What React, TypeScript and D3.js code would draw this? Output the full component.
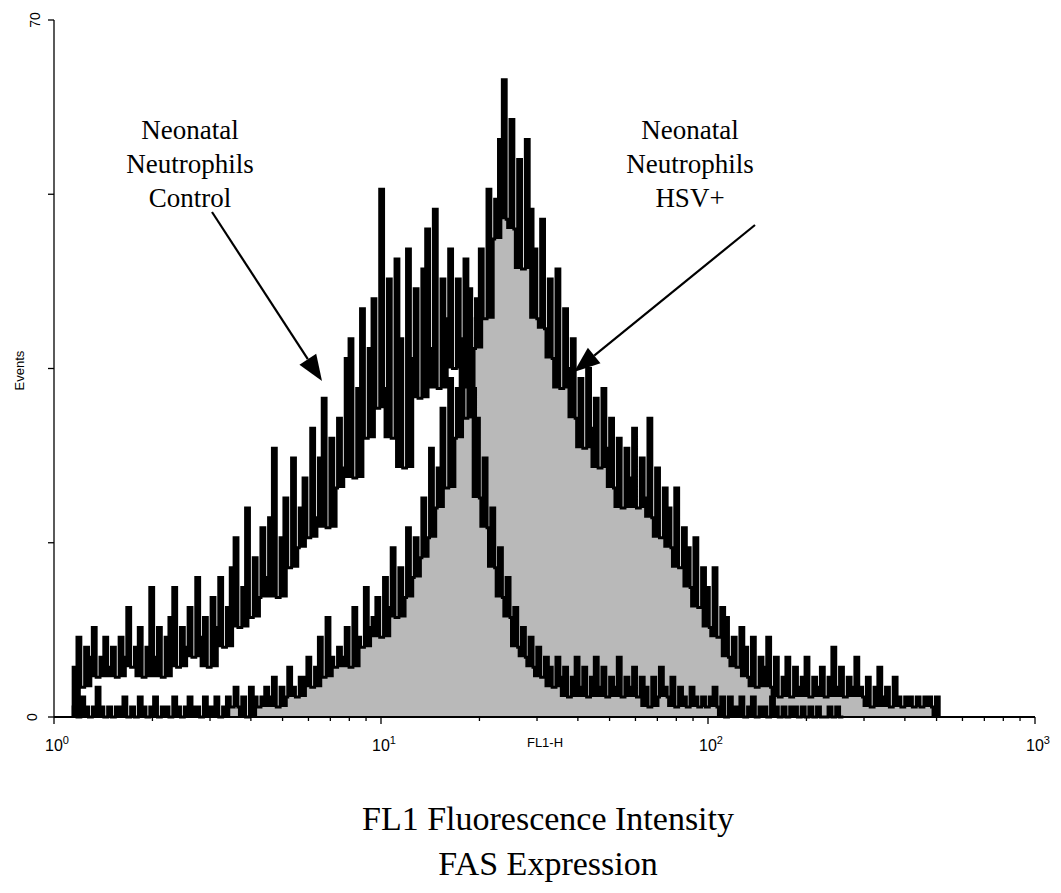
import React from "react";
import * as d3 from "d3";

// Histogram channels: 256 log-spaced bins over 10^0..10^3, data start at bin 5
const NB = 256;
const START_BIN = 5;

// Neonatal Neutrophils Control (open outline)
const CONTROL: number[] = [
  5, 8, 3, 7, 6, 9, 4, 6, 8, 5,
  7, 4, 8, 6, 11, 5, 7, 9, 4, 7,
  13, 6, 9, 4, 8, 10, 13, 5, 9, 7,
  11, 6, 14, 8, 10, 5, 12, 9, 14, 7,
  11, 15, 18, 9, 13, 21, 10, 16, 12, 19,
  14, 20, 27, 12, 18, 22, 15, 26, 17, 21,
  24, 18, 29, 20, 26, 32, 19, 28, 23, 30,
  25, 36, 38, 24, 33, 41, 28, 37, 42, 31,
  53, 33, 44, 28, 46, 38, 25, 47, 36, 43,
  32, 45, 49, 37, 51, 33, 44, 40, 47, 35,
  44, 35, 46, 40, 33,
  30, 22, 26, 19, 21, 15, 17, 12, 14, 10,
  11, 7, 9, 6, 8, 5, 7, 4, 6, 5,
  3, 6, 4, 5, 2, 4, 6, 3, 5, 2,
  4, 6, 3, 5, 2, 4, 3, 6, 2, 4,
  3, 5, 2, 4, 3, 1, 4, 2, 5, 3,
  2, 4, 1, 3, 2, 1, 3, 2, 1, 2,
  1, 2, 3, 1, 2, 0, 2, 1, 1, 2,
  0, 1, 2, 0, 1, 1, 0, 2, 1, 0,
  1, 0, 1, 1, 0, 1, 0, 1, 0, 1,
  0, 0, 1, 0, 1, 0,
];

// Neonatal Neutrophils HSV+ (grey filled)
const HSV: number[] = [
  1, 0, 2, 1, 0, 1, 3, 1, 0, 1,
  0, 1, 1, 2, 0, 1, 0, 2, 1, 0,
  1, 2, 0, 1, 1, 0, 2, 1, 0, 1,
  2, 1, 1, 0, 2, 1, 1, 2, 0, 1,
  2, 1, 3, 1, 2, 0, 3, 2, 1, 2,
  3, 2, 4, 1, 3, 2, 5, 3, 2, 4,
  4, 6, 3, 5, 8, 4, 10, 6, 5, 7,
  6, 9, 5, 11, 8, 7, 13, 9, 10, 12,
  8, 14, 11, 17, 10, 15, 12, 19, 14, 18,
  16, 22, 18, 27, 21, 25, 31, 23, 34, 28,
  33, 38, 30, 43, 37, 42, 47, 40, 53, 48,
  52, 58, 64, 50, 60, 49, 56, 45, 58, 51,
  47, 40, 50, 39, 44, 36, 45, 33, 41, 35,
  38, 30, 34, 27, 35, 29, 32, 25, 33, 27,
  30, 23, 28, 21, 27, 24, 29, 21, 26, 22,
  30, 20, 25, 18, 23, 21, 17, 23, 15, 19,
  17, 13, 18, 11, 15, 13, 9, 15, 8, 11,
  10, 6, 8, 5, 9, 7, 4, 8, 3, 6,
  5, 8, 3, 6, 2, 4, 6, 2, 5, 3,
  4, 6, 2, 4, 3, 5, 2, 4, 7, 3,
  5, 2, 4, 3, 6, 3, 2, 4, 1, 3,
  5, 2, 3, 1, 4, 2, 1, 2, 2, 1,
  2, 1, 2, 2, 1, 2,
];

const Y_TICKS = [0, 17.5, 35, 52.5, 70];
const Y_TICK_LABELS = [
  { v: 0, t: "0" },
  { v: 70, t: "70" },
];
const X_MAJOR = [
  { v: 1, exp: "0" },
  { v: 10, exp: "1" },
  { v: 100, exp: "2" },
  { v: 1000, exp: "3" },
];
const LEFT_LABEL = ["Neonatal", "Neutrophils", "Control"];
const RIGHT_LABEL = ["Neonatal", "Neutrophils", "HSV+"];
const TITLE = ["FL1 Fluorescence Intensity", "FAS Expression"];

const W = 1061;
const H = 893;

const x = d3.scaleLog().domain([1, 1000]).range([54, 1035]);
const y = d3.scaleLinear().domain([0, 70]).range([717, 20]);

const edge = (i: number) => Math.pow(10, (3 * i) / NB);

function histPath(vals: number[], close: boolean) {
  let d = `M${x(edge(START_BIN))},${y(0)}`;
  vals.forEach((v, k) => {
    d += `V${y(v)}H${x(edge(START_BIN + k + 1))}`;
  });
  d += `V${y(0)}`;
  if (close) d += "Z";
  return d;
}

// local low of neighbouring channels (channel-to-channel jitter band)
function localLow(vals: number[], r = 2) {
  return vals.map((v, k) => {
    let m = v;
    for (let j = k - r; j <= k + r; j++) m = Math.min(m, vals[j] ?? 0);
    return m;
  });
}

function lowPath(vals: number[]) {
  const lo = localLow(vals);
  let d = `M${x(edge(START_BIN))},${y(0)}`;
  lo.forEach((v, k) => {
    d += `V${y(v)}H${x(edge(START_BIN + k + 1))}`;
  });
  d += `V${y(0)}Z`;
  return d;
}

function bandPath(vals: number[]) {
  const lo = localLow(vals);
  let d = "";
  vals.forEach((v, k) => {
    const x0 = x(edge(START_BIN + k));
    const x1 = x(edge(START_BIN + k + 1));
    d += `M${x0},${y(v)}H${x1}V${y(lo[k])}H${x0}Z`;
  });
  return d;
}

function minorTicks() {
  const out: { v: number; major: boolean }[] = [];
  for (let dec = 1; dec < 1000; dec *= 10) {
    for (let m = 1; m <= 9; m++) {
      out.push({ v: dec * m, major: m === 1 });
    }
  }
  out.push({ v: 1000, major: true });
  return out;
}

function Arrow({ x1, y1, x2, y2 }: { x1: number; y1: number; x2: number; y2: number }) {
  const ang = Math.atan2(y2 - y1, x2 - x1);
  const L = 26;
  const Wd = 10;
  const bx = x2 - L * Math.cos(ang);
  const by = y2 - L * Math.sin(ang);
  const px = -Math.sin(ang) * Wd;
  const py = Math.cos(ang) * Wd;
  return (
    <g>
      <line x1={x1} y1={y1} x2={bx} y2={by} stroke="#000" strokeWidth={2.2} />
      <path
        d={`M${x2},${y2}L${bx + px},${by + py}L${bx - px},${by - py}Z`}
        fill="#000"
      />
    </g>
  );
}

export default function App() {
  const sans = "'Liberation Sans', Arial, sans-serif";
  const serif = "'Liberation Serif', 'Times New Roman', serif";
  const lw = 3;
  return (
    <svg
      width={W}
      height={H}
      style={{ position: "absolute", left: 0, top: 0, background: "#fff" }}
    >
      <rect x={0} y={0} width={W} height={H} fill="#fff" />
      {/* HSV+ filled histogram */}
      <path d={histPath(HSV, true)} fill="#000" stroke="none" />
      <path d={lowPath(HSV)} fill="#b9b9b9" stroke="none" />
      <path
        d={histPath(HSV, false)}
        fill="none"
        stroke="#000"
        strokeWidth={lw}
        strokeLinejoin="miter"
      />
      {/* Control open histogram */}
      <path d={bandPath(CONTROL)} fill="#000" stroke="none" />
      <path
        d={histPath(CONTROL, false)}
        fill="none"
        stroke="#000"
        strokeWidth={lw}
        strokeLinejoin="miter"
      />

      {/* Y axis */}
      <line x1={54} y1={y(70)} x2={54} y2={y(0)} stroke="#000" strokeWidth={1.3} />
      {Y_TICKS.map((t) => (
        <line key={t} x1={48} x2={54} y1={y(t)} y2={y(t)} stroke="#000" strokeWidth={1.3} />
      ))}
      {Y_TICK_LABELS.map((t) => (
        <text
          key={t.t}
          transform={`translate(${t.v === 0 ? 37 : 40},${y(t.v)}) rotate(-90)`}
          textAnchor="middle"
          fontFamily={sans}
          fontSize={14}
        >
          {t.t}
        </text>
      ))}
      <text
        transform={`translate(24,${(y(0) + y(70)) / 2 + 2}) rotate(-90)`}
        textAnchor="middle"
        fontFamily={sans}
        fontSize={13}
      >
        Events
      </text>

      {/* X axis */}
      <line x1={54} y1={y(0)} x2={1035} y2={y(0)} stroke="#000" strokeWidth={1.8} />
      {minorTicks().map((t, i) => (
        <line
          key={i}
          x1={x(t.v)}
          x2={x(t.v)}
          y1={y(0)}
          y2={y(0) + (t.major ? 7 : 4)}
          stroke="#000"
          strokeWidth={1.3}
        />
      ))}
      {X_MAJOR.map((t) => (
        <text
          key={t.exp}
          x={x(t.v) - 9}
          y={751}
          fontFamily={sans}
          fontSize={16}
        >
          10
          <tspan dy={-7} fontSize={11}>
            {t.exp}
          </tspan>
        </text>
      ))}
      <text x={545} y={747} textAnchor="middle" fontFamily={sans} fontSize={13}>
        FL1-H
      </text>

      {/* annotations */}
      {LEFT_LABEL.map((s, i) => (
        <text key={"l" + i} x={190} y={139 + i * 34} textAnchor="middle" fontFamily={serif} fontSize={27}>
          {s}
        </text>
      ))}
      {RIGHT_LABEL.map((s, i) => (
        <text key={"r" + i} x={690} y={139 + i * 34} textAnchor="middle" fontFamily={serif} fontSize={27}>
          {s}
        </text>
      ))}
      <Arrow x1={212} y1={212} x2={322} y2={381} />
      <Arrow x1={755} y1={225} x2={574} y2={372} />

      {/* bottom title */}
      {TITLE.map((s, i) => (
        <text key={"t" + i} x={548} y={830 + i * 45} textAnchor="middle" fontFamily={serif} fontSize={34}>
          {s}
        </text>
      ))}
    </svg>
  );
}
